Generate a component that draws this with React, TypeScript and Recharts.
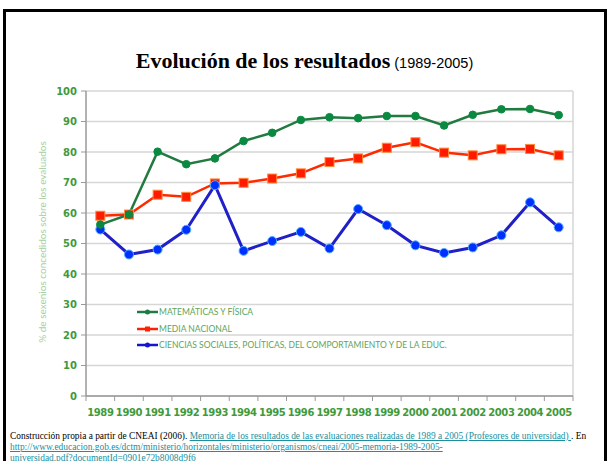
import React from 'react';
import {
	LineChart,
	Line,
	XAxis,
	YAxis,
	CartesianGrid,
} from 'recharts';

const years = [
	1989, 1990, 1991, 1992, 1993, 1994, 1995, 1996, 1997, 1998, 1999, 2000,
	2001, 2002, 2003, 2004, 2005,
];
const matematicas = [
	56.2, 59.5, 80.1, 76.0, 77.9, 83.6, 86.3, 90.5, 91.4, 91.1, 91.8, 91.8,
	88.7, 92.2, 94.0, 94.1, 92.1,
];
const mediaNacional = [
	59.1, 59.5, 66.0, 65.3, 69.7, 69.9, 71.3, 73.0, 76.7, 77.9, 81.4, 83.2,
	79.8, 78.9, 80.9, 81.0, 78.9,
];
const cienciasSociales = [
	54.6, 46.4, 48.0, 54.5, 69.1, 47.6, 50.8, 53.8, 48.4, 61.3, 56.0, 49.4,
	46.9, 48.7, 52.7, 63.5, 55.3,
];
const yTicks = [0, 10, 20, 30, 40, 50, 60, 70, 80, 90, 100];
const seriesNames = [
	'MATEMÁTICAS Y FÍSICA',
	'MEDIA NACIONAL',
	'CIENCIAS SOCIALES, POLÍTICAS, DEL COMPORTAMIENTO Y DE LA EDUC.',
];

const data = years.map((year, i) => ({
	year,
	mat: matematicas[i],
	media: mediaNacional[i],
	cs: cienciasSociales[i],
}));

// boundaries between years, Excel style ticks
const boundaryTicks = [...years.map((y) => y - 0.5), years[years.length - 1] + 0.5];

const chartW = 609;
const chartH = 461;
const margin = { top: 91, right: 36, left: 36, bottom: 45 };
const yAxisW = 50;
const plotW = chartW - margin.left - yAxisW - margin.right;
const halfStep = plotW / years.length / 2;

const labelGreen = '#3f9a3c';
const tickFont = 'DejaVu Sans, sans-serif';

const YearTick = (props: any) => {
	const { x, y, payload, index } = props;
	const isLast = index === boundaryTicks.length - 1;
	return (
		<g>
			<line x1={x} y1={y} x2={x} y2={y + 5} stroke='#999' strokeWidth={1} />
			{!isLast && (
				<text
					x={x + halfStep}
					y={y + 20}
					textAnchor='middle'
					fill={labelGreen}
					fontSize={10}
					fontWeight='bold'
					fontFamily={tickFont}
					letterSpacing={-0.4}
				>
					{payload.value + 0.5}
				</text>
			)}
		</g>
	);
};

const SquareDot = (props: any) => {
	const { cx, cy } = props;
	if (cx == null || cy == null) return null;
	return (
		<rect
			x={cx - 4.5}
			y={cy - 4.5}
			width={9}
			height={9}
			fill='#ff1a00'
			stroke='#ff8a3a'
			strokeWidth={1}
		/>
	);
};

const LegendBox = () => {
	const colors = ['#1f7a44', '#ff2200', '#1515d0'];
	return (
		<div style={{ fontFamily: 'Lato, sans-serif', fontSize: 8.5 }}>
			{seriesNames.map((name, i) => (
				<div
					key={name}
					style={{ display: 'flex', alignItems: 'center', height: 16.5 }}
				>
					<svg width={21} height={8}>
						<line x1={0} y1={4} x2={21} y2={4} stroke={colors[i]} strokeWidth={2.5} />
						{i === 1 ?
							<rect x={8} y={1.5} width={5} height={5} fill={colors[i]} />
						:	<circle cx={10.5} cy={4} r={2.5} fill={colors[i]} />}
					</svg>
					<span style={{ color: '#5aa55a', marginLeft: 1, whiteSpace: 'nowrap' }}>
						{name}
					</span>
				</div>
			))}
		</div>
	);
};

const linkStyle = { color: '#1a8fa0', textDecoration: 'underline' };

export default function App() {
	return (
		<div
			style={{
				position: 'absolute',
				left: 0,
				top: 0,
				width: chartW,
				height: chartH,
				overflow: 'hidden',
				background: '#fff',
			}}
		>
			<div
				style={{
					position: 'absolute',
					left: 3,
					top: 9,
					width: 598,
					height: 480,
					border: '3px solid #000',
				}}
			/>
			<div
				style={{
					position: 'absolute',
					left: 0,
					top: 48,
					width: chartW,
					textAlign: 'center',
					whiteSpace: 'nowrap',
				}}
			>
				<span
					style={{
						fontFamily: 'Liberation Serif, serif',
						fontWeight: 'bold',
						fontSize: 22,
					}}
				>
					Evolución de los resultados
				</span>
				<span style={{ fontFamily: 'Liberation Sans, Arial, sans-serif', fontSize: 14.5 }}>
					{' '}
					(1989-2005)
				</span>
			</div>
			<div
				style={{
					position: 'absolute',
					left: 42,
					top: 242,
					transform: 'translate(-50%, -50%) rotate(-90deg)',
					whiteSpace: 'nowrap',
					fontFamily: 'Lato, sans-serif',
					fontSize: 10,
					color: '#a8d0a0',
				}}
			>
				% de sexenios concedidos sobre los evaluados
			</div>
			<div style={{ position: 'absolute', left: 0, top: 0 }}>
				<LineChart width={chartW} height={chartH} data={data} margin={margin}>
					<CartesianGrid
						vertical
						verticalCoordinatesGenerator={({ offset }: any) => [
							offset.left + offset.width,
						]}
						stroke='#d6d6d6'
						strokeWidth={1.5}
					/>
					<XAxis
						dataKey='year'
						type='number'
						domain={[boundaryTicks[0], boundaryTicks[boundaryTicks.length - 1]]}
						ticks={boundaryTicks}
						interval={0}
						tick={<YearTick />}
						tickLine={false}
						tickSize={0}
						tickMargin={0}
						axisLine={{ stroke: '#999', strokeWidth: 1.5 }}
						height={20}
					/>
					<YAxis
						domain={[0, 100]}
						ticks={yTicks}
						interval={0}
						width={yAxisW}
						axisLine={{ stroke: '#999', strokeWidth: 1.5 }}
						tickLine={{ stroke: '#999' }}
						tickSize={5}
						tickMargin={4}
						tick={{
							fill: labelGreen,
							fontSize: 10,
							fontWeight: 'bold',
							fontFamily: tickFont,
						}}
					/>
					<Line
						dataKey='media'
						name={seriesNames[1]}
						stroke='#ff2a00'
						strokeWidth={2.5}
						dot={<SquareDot />}
						isAnimationActive={false}
					/>
					<Line
						dataKey='cs'
						name={seriesNames[2]}
						stroke='#2020c8'
						strokeWidth={3}
						dot={{ r: 4.5, fill: '#0030ff', stroke: '#50b0ff', strokeWidth: 1 }}
						isAnimationActive={false}
					/>
					<Line
						dataKey='mat'
						name={seriesNames[0]}
						stroke='#217a40'
						strokeWidth={2.5}
						dot={{ r: 3.8, fill: '#0a8a40', stroke: '#0a8a40', strokeWidth: 1 }}
						isAnimationActive={false}
					/>
				</LineChart>
			</div>
			<div style={{ position: 'absolute', left: 137, top: 304 }}>
				<LegendBox />
			</div>
			<div
				style={{
					position: 'absolute',
					left: 10,
					top: 431,
					width: 595,
					fontFamily: 'Liberation Serif, serif',
					fontSize: 9.4,
					lineHeight: '11px',
					color: '#000',
					whiteSpace: 'nowrap',
				}}
			>
				<div>
					Construcción propia a partir de CNEAI (2006).{' '}
					<span style={linkStyle}>
						Memoria de los resultados de las evaluaciones realizadas de 1989 a 2005
						(Profesores de universidad){' '}
					</span>
					. En
				</div>
				<div>
					<span style={linkStyle}>
						http://www.educacion.gob.es/dctm/ministerio/horizontales/ministerio/organismos/cneai/2005-memoria-1989-2005-
					</span>
				</div>
				<div>
					<span style={linkStyle}>universidad.pdf?documentId=0901e72b8008d9f6</span>
				</div>
			</div>
		</div>
	);
}
